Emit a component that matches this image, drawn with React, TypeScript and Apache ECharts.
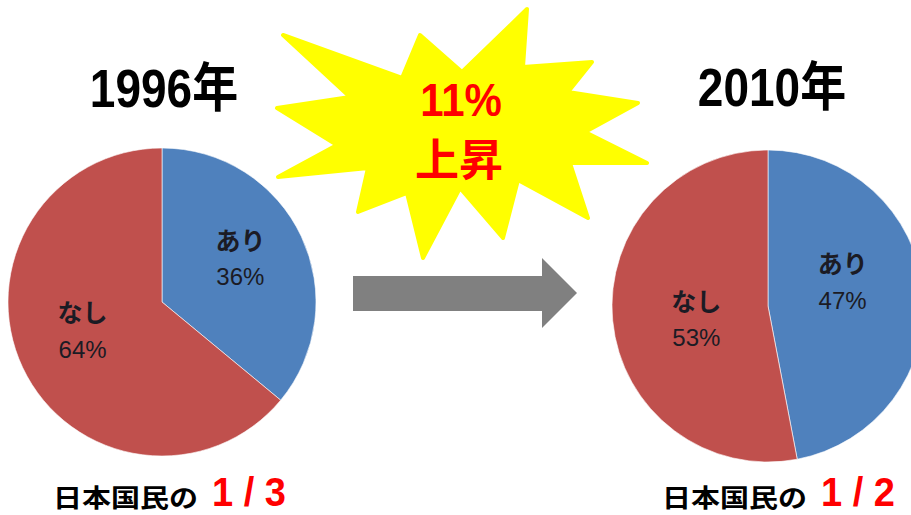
import React, { useEffect, useRef } from "react";
import * as echarts from "echarts";

const categories = ["あり", "なし"];
const values1996 = [36, 64];
const values2010 = [47, 53];
const yearLabels = ["1996年", "2010年"];
const riseLabel = ["11%", "上昇"];
const shareLabel = "日本国民の";
const shareValues = ["1 / 3", "1 / 2"];
const colors = ["#4F81BD", "#C0504D"];

const FONT = '"Liberation Sans", "Noto Sans CJK JP", sans-serif';

export default function App() {
  const ref = useRef<HTMLDivElement>(null);
  useEffect(() => {
    if (!ref.current) return;
    const chart = echarts.init(ref.current, null, { renderer: "svg" });

    const starPts = [
      [283, 35], [402, 78], [420, 35], [462, 72], [527, 9], [523, 67],
      [592, 62], [568, 92], [638, 103], [585, 132], [647, 163], [570, 163],
      [588, 218], [518, 180], [503, 238], [460, 188], [423, 258], [407, 193],
      [358, 212], [368, 168], [278, 177], [337, 145], [277, 108], [350, 97],
    ];

    const pieLabel = {
      show: true,
      position: "inside",
      formatter: "{n|{b}}\n{v|{c}%}",
      rich: {
        n: { fontSize: 25, fontWeight: "bold", color: "#1b1b24", fontFamily: FONT, lineHeight: 36 },
        v: { fontSize: 24, color: "#1b1b24", fontFamily: FONT, lineHeight: 36 },
      },
    };

    const mkData = (vals: number[]) =>
      categories.map((c, i) => ({ name: c, value: vals[i], itemStyle: { color: colors[i] } }));

    const offsets1996 = [[6, -9], [-7, -5]];
    const offsets2010 = [[-6, -16], [9, 6]];

    chart.setOption({
      animation: false,
      series: [
        {
          type: "pie",
          center: [162, 302],
          radius: 154,
          startAngle: 90,
          clockwise: true,
          silent: true,
          data: mkData(values1996),
          label: pieLabel,
          labelLine: { show: false },
          itemStyle: { borderColor: "rgba(255,255,255,0.6)", borderWidth: 1 },
          labelLayout: (p: any) => ({ dx: offsets1996[p.dataIndex][0], dy: offsets1996[p.dataIndex][1] }),
        },
        {
          type: "pie",
          center: [768, 306],
          radius: 156,
          startAngle: 90,
          clockwise: true,
          silent: true,
          data: mkData(values2010),
          label: pieLabel,
          labelLine: { show: false },
          itemStyle: { borderColor: "rgba(255,255,255,0.6)", borderWidth: 1 },
          labelLayout: (p: any) => ({ dx: offsets2010[p.dataIndex][0], dy: offsets2010[p.dataIndex][1] }),
        },
      ],
      graphic: [
        {
          type: "polygon",
          z: 10,
          shape: { points: starPts },
          style: { fill: "#FFFF00", stroke: "#FFFF00", lineWidth: 4, lineJoin: "round" },
        },
        {
          type: "polygon",
          z: 10,
          shape: { points: [[353, 276], [542, 276], [542, 258], [577, 293], [542, 328], [542, 311], [353, 311]] },
          style: { fill: "#808080" },
        },
        {
          type: "text", z: 11, x: 461, y: 100, scaleY: 1.12,
          style: { text: riseLabel[0], font: `bold 42px ${FONT}`, fill: "#FF0000", textAlign: "center", textVerticalAlign: "middle" },
        },
        {
          type: "text", z: 11, x: 459, y: 160,
          style: { text: riseLabel[1], font: `bold 44px ${FONT}`, fill: "#FF0000", textAlign: "center", textVerticalAlign: "middle" },
        },
        {
          type: "text", z: 11, x: 164, y: 89, scaleY: 1.15,
          style: { text: yearLabels[0], font: `bold 46px ${FONT}`, fill: "#000", textAlign: "center", textVerticalAlign: "middle" },
        },
        {
          type: "text", z: 11, x: 772, y: 88, scaleY: 1.15,
          style: { text: yearLabels[1], font: `bold 46px ${FONT}`, fill: "#000", textAlign: "center", textVerticalAlign: "middle" },
        },
        {
          type: "text", z: 11, x: 53, y: 499, scaleY: 0.85,
          style: { text: shareLabel, font: `bold 29px ${FONT}`, fill: "#000", textAlign: "left", textVerticalAlign: "middle" },
        },
        {
          type: "text", z: 11, x: 212, y: 492, scaleY: 1.05,
          style: { text: shareValues[0], font: `bold 38px "Liberation Sans", sans-serif`, fill: "#FF0000", textAlign: "left", textVerticalAlign: "middle" },
        },
        {
          type: "text", z: 11, x: 662, y: 499, scaleY: 0.85,
          style: { text: shareLabel, font: `bold 29px ${FONT}`, fill: "#000", textAlign: "left", textVerticalAlign: "middle" },
        },
        {
          type: "text", z: 11, x: 821, y: 492, scaleY: 1.05,
          style: { text: shareValues[1], font: `bold 38px "Liberation Sans", sans-serif`, fill: "#FF0000", textAlign: "left", textVerticalAlign: "middle" },
        },
      ],
    });
    return () => chart.dispose();
  }, []);

  return (
    <div
      ref={ref}
      style={{ position: "fixed", left: 0, top: 0, width: 911, height: 515, background: "#fff" }}
    />
  );
}
